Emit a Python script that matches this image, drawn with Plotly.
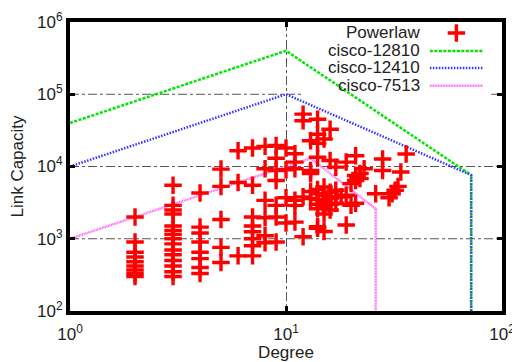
import math
import plotly.graph_objects as go

# ---- data ----
powerlaw_degree = (
    [2] * 9 + [3] * 15 + [4] * 8 + [5] * 5 + [6] * 3 + [7] * 8 + [8] * 6 + [9] * 7
    + [10] * 4 + [11] * 6 + [12] * 4 + [13] * 5 + [14] * 11 + [15] * 7 + [16] * 6
    + [17] * 4 + [18] * 1 + [19] * 3 + [20] * 2 + [21] * 4 + [22] * 2 + [23] * 1
    + [26] * 1 + [28] * 2 + [30] * 1 + [31] * 1 + [32] * 1 + [33] * 1 + [34] * 1 + [36] * 1
)
powerlaw_capacity = (
    [2000, 900, 650, 560, 480, 420, 370, 330, 300]
    + [5500, 2900, 2500, 2200, 1500, 1300, 1150, 1000, 850, 700, 600, 500, 420, 350, 300]
    + [4300, 1450, 1200, 900, 650, 530, 400, 330]
    + [9200, 5300, 1850, 760, 470]
    + [16500, 6000, 580]
    + [18000, 5500, 2000, 1500, 1250, 1000, 800, 580]
    + [19000, 9300, 3400, 1950, 1100, 880]
    + [19500, 13000, 8800, 6400, 2900, 2000, 900]
    + [18000, 9000, 3700, 1650]
    + [15000, 11500, 9300, 3400, 2900, 1700]
    + [53000, 43000, 3800, 1070]
    + [22700, 8800, 8000, 3600, 4500]
    + [45000, 28000, 21000, 13400, 4800, 4200, 3500, 3000, 2600, 1470, 1400]
    + [24000, 5200, 4000, 3300, 2700, 2200, 1260]
    + [32800, 12100, 4400, 3600, 3000, 2500]
    + [9800, 4700, 3800, 3100]
    + [3800]
    + [11500, 4000, 1550]
    + [5800, 2900]
    + [14100, 7500, 6400, 3100]
    + [8000, 6800]
    + [9300]
    + [4200]
    + [12700, 8800]
    + [3700]
    + [4200]
    + [4700]
    + [5300]
    + [8400]
    + [14900]
)

cisco12810_degree = [1, 10, 72, 72]
cisco12810_capacity = [40000, 400000, 7600, 100]
cisco12410_degree = [1, 10, 72, 72]
cisco12410_capacity = [10000, 100000, 7600, 100]
cisco7513_degree = [1, 13, 26, 26]
cisco7513_capacity = [1000, 13000, 2600, 100]

legend_names = ["Powerlaw", "cisco-12810", "cisco-12410", "cisco-7513"]
x_tickvals = [1, 10, 100]
x_ticktext = ["10<sup>0</sup>", "10<sup>1</sup>", "10<sup>2</sup>"]
y_tickvals = [100, 1000, 10000, 100000, 1000000]
y_ticktext = ["10<sup>2</sup>", "10<sup>3</sup>", "10<sup>4</sup>", "10<sup>5</sup>", "10<sup>6</sup>"]
y_gridvals = [1000, 10000, 100000]

GREEN = "#00e600"
BLUE = "#3333ff"
PINK = "#ff66ff"
RED = "#ff0000"
GRID = "#555555"
FONT = "Liberation Sans, Arial, sans-serif"

line_styles = [
    (cisco12810_degree, cisco12810_capacity, GREEN, "3px,1.5px"),
    (cisco12410_degree, cisco12410_capacity, BLUE, "1.5px,1.5px"),
    (cisco7513_degree, cisco7513_capacity, PINK, "1px,0.6px"),
]

# legend box (fraction of the plot area) – grid lines stop at it, as in gnuplot
LEG_X0, LEG_X1, LEG_Y0 = 0.535, 0.975, 0.735

fig = go.Figure()

# horizontal grid lines (drawn as shapes so they can stop at the legend box)
for gv in y_gridvals:
    frac = (math.log10(gv) - 2) / 4
    segs = [(0, LEG_X0), (LEG_X1, 1)] if frac > LEG_Y0 else [(0, 1)]
    for a, b in segs:
        fig.add_shape(type="line", xref="x domain", yref="y", x0=a, x1=b, y0=gv, y1=gv,
                      line=dict(color=GRID, width=1, dash="dashdot"), layer="below")

for xs, ys, col, dash in line_styles:
    fig.add_trace(go.Scatter(x=xs, y=ys, mode="lines", showlegend=False,
                             line=dict(color=col, width=2.5, dash=dash)))

fig.add_trace(go.Scatter(x=powerlaw_degree, y=powerlaw_capacity, mode="markers",
                         showlegend=False,
                         marker=dict(symbol="cross-thin", size=12.5, color=RED,
                                     line=dict(color=RED, width=3.4))))

# ---- manual gnuplot-style legend (text right-aligned, sample on the right) ----
leg_text_x = 0.815
leg_rows_y = [0.962, 0.900, 0.841, 0.779]
sample_x0, sample_x1 = 0.833, 0.956
fig.add_trace(go.Scatter(x=[(sample_x0 + sample_x1) / 2], y=[leg_rows_y[0]], xaxis="x2", yaxis="y2",
                         mode="markers", showlegend=False, hoverinfo="skip",
                         marker=dict(symbol="cross-thin", size=12.5, color=RED,
                                     line=dict(color=RED, width=3.4))))
for (xs, ys, col, dash), yy in zip(line_styles, leg_rows_y[1:]):
    fig.add_trace(go.Scatter(x=[sample_x0, sample_x1], y=[yy, yy], xaxis="x2", yaxis="y2",
                             mode="lines", showlegend=False, hoverinfo="skip",
                             line=dict(color=col, width=2.5, dash=dash)))
for name, yy in zip(legend_names, leg_rows_y):
    fig.add_annotation(x=leg_text_x, y=yy, xref="paper", yref="paper", text=name,
                       showarrow=False, xanchor="right", yanchor="middle",
                       font=dict(family=FONT, size=17, color="#222"))

axis_common = dict(
    type="log", showline=True, linewidth=4, linecolor="black", mirror="ticks",
    ticks="inside", ticklen=5, tickwidth=3, tickcolor="black",
    zeroline=False, tickfont=dict(family=FONT, size=17, color="#222"),
)

# the page body has an 8px default margin, so the figure is sized to fill the rest
fig.update_layout(
    width=512, height=354,
    margin=dict(l=62, r=18, t=14, b=51, autoexpand=False),
    paper_bgcolor="white", plot_bgcolor="white",
    font=dict(family=FONT, size=17, color="#222"),
    xaxis=dict(axis_common, range=[0, 2], tickmode="array", tickvals=x_tickvals,
               ticktext=x_ticktext, showgrid=True, gridcolor=GRID, gridwidth=1,
               griddash="dashdot", ticklabelstandoff=5,
               title=dict(text="Degree", font=dict(family=FONT, size=17), standoff=12)),
    yaxis=dict(axis_common, range=[2, 6], tickmode="array", tickvals=y_tickvals,
               ticktext=y_ticktext, showgrid=False,
               title=dict(text="Link Capacity", font=dict(family=FONT, size=17), standoff=16)),
    xaxis2=dict(overlaying="x", range=[0, 1], visible=False),
    yaxis2=dict(overlaying="y", range=[0, 1], visible=False),
)

fig.write_html("out.html")
